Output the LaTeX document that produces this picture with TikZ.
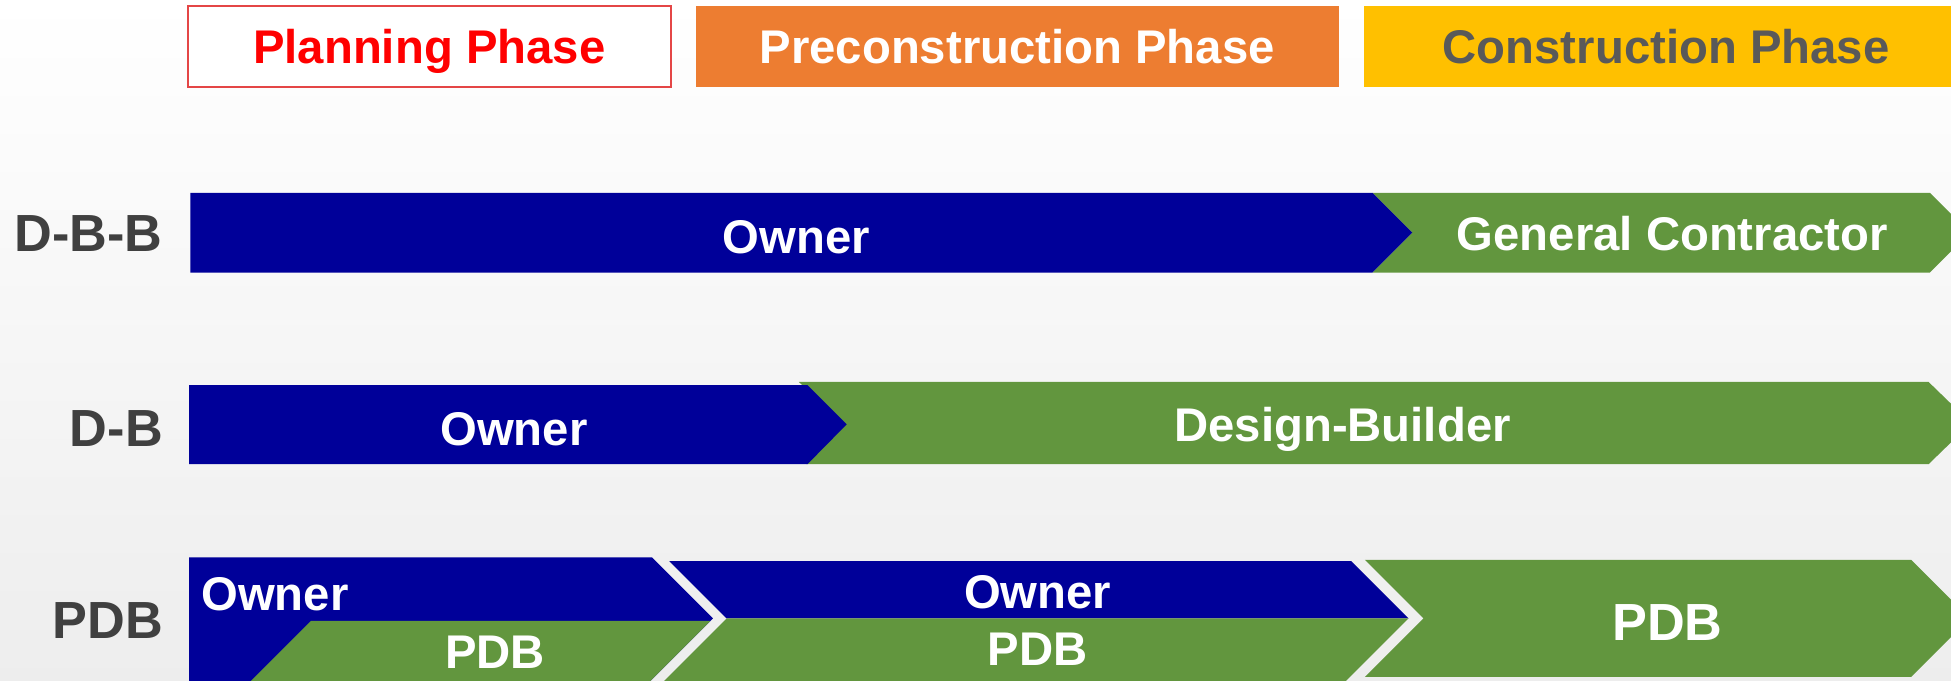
\documentclass[tikz,border=0pt]{standalone}
\usepackage{fontspec}
\setmainfont{Liberation Sans}
\definecolor{ownerblue}{RGB}{0,0,153}
\definecolor{gcgreen}{RGB}{98,150,62}
\definecolor{preorange}{RGB}{237,125,49}
\definecolor{conyellow}{RGB}{255,192,0}
\definecolor{planred}{RGB}{255,0,0}
\definecolor{planborder}{RGB}{228,70,70}
\definecolor{labelgray}{RGB}{64,64,64}
\definecolor{congray}{RGB}{89,89,89}
\begin{document}
\begin{tikzpicture}[x=1pt,y=-1pt,
  txt/.style={inner sep=0pt, anchor=base, font=\fontsize{38}{40}\selectfont\bfseries, text=white},
  bigtxt/.style={txt, font=\fontsize{42}{44}\selectfont\bfseries},
  lbl/.style={inner sep=0pt, anchor=base east, font=\fontsize{42}{44}\selectfont\bfseries, text=labelgray},
  ownerfill/.style={fill=ownerblue},
  builderfill/.style={fill=gcgreen}]
\useasboundingbox (0,0) rectangle (1568,547);
\clip (0,0) rectangle (1568,547);
\shade[top color=white,bottom color=black!7] (0,0) rectangle (1568,547);

% phase headers
\draw[planborder, line width=1.6pt, fill=white] (151,5) rectangle (539,70);
\node[txt, text=planred] (plan) at (345,51.4) {Planning Phase};
\fill[preorange] (559,5) rectangle (1076,70);
\node[txt] (pre) at (817.5,51.4) {Preconstruction Phase};
\fill[conyellow] (1096,5) rectangle (1582,70);
\node[txt, text=congray] (con) at (1339,51.4) {Construction Phase};

% row labels
\node[lbl] (dbb) at (131,202) {D-B-B};
\node[lbl] (db) at (131,359) {D-B};
\node[lbl] (pdb) at (131,513) {PDB};

% D-B-B row
\path[builderfill] (1103,155) -- (1551,155) -- (1583,187) -- (1551,219) -- (1103,219) -- (1135,187) -- cycle;
\path[ownerfill] (153,155) -- (1103,155) -- (1135,187) -- (1103,219) -- (153,219) -- cycle;
\node[txt] (dbbowner) at (640,203.6) {Owner};
\node[txt] (dbbgc) at (1344,201) {General Contractor};

% D-B row
\path[builderfill] (642,307) -- (1550,307) -- (1584,340) -- (1550,373) -- (648,373) -- (680,341) -- cycle;
\path[ownerfill] (152,309.5) -- (649,309.5) -- (680.5,341) -- (649,373) -- (152,373) -- cycle;
\node[txt] (dbowner) at (413,357.7) {Owner};
\node[txt] (dbdb) at (1079,355) {Design-Builder};

% PDB row
\path[ownerfill] (152,448) -- (524,448) -- (573,497) -- (518,552) -- (152,552) -- cycle;
\path[builderfill] (250,499) -- (571,499) -- (518,552) -- (197,552) -- cycle;
\node[txt] (p1owner) at (221,491) {Owner};
\node[txt] (p1pdb) at (398,537) {PDB};

\path[ownerfill] (538,451) -- (1086,451) -- (1132,497) -- (584,497) -- cycle;
\path[builderfill] (584,497) -- (1132,497) -- (1077,552) -- (529,552) -- cycle;
\node[txt] (p2owner) at (834,489) {Owner};
\node[txt] (p2pdb) at (834,535) {PDB};

\path[builderfill] (1097,450) -- (1536,450) -- (1583,497) -- (1536,544) -- (1097,544) -- (1144,497) -- cycle;
\node[bigtxt] (p3pdb) at (1340,514.5) {PDB};
\end{tikzpicture}
\end{document}
